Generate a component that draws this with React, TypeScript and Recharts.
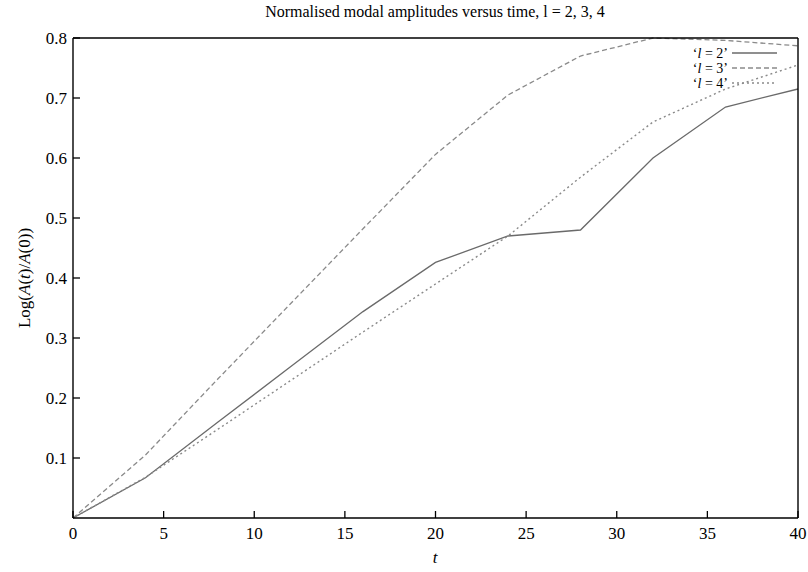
import React from "react";
import { LineChart, Line, XAxis, YAxis, Legend } from "recharts";

// t values (every 4 time units)
const times = [0, 4, 8, 12, 16, 20, 24, 28, 32, 36, 40];

// Log(A(t)/A(0))
const ampL2 = [0, 0.067, 0.16, 0.252, 0.344, 0.426, 0.47, 0.48, 0.6, 0.685, 0.715];
const ampL3 = [0, 0.105, 0.232, 0.357, 0.482, 0.606, 0.705, 0.77, 0.8, 0.796, 0.787];
const ampL4 = [0, 0.068, 0.148, 0.229, 0.31, 0.39, 0.47, 0.568, 0.66, 0.715, 0.755];

const xTicks = [0, 5, 10, 15, 20, 25, 30, 35, 40];
const yTicks = [0.1, 0.2, 0.3, 0.4, 0.5, 0.6, 0.7, 0.8];

const seriesNames = ["l = 2", "l = 3", "l = 4"];

const data = times.map((t, i) => ({
  t,
  l2: ampL2[i],
  l3: ampL3[i],
  l4: ampL4[i],
}));

const FONT = "'Liberation Serif', 'Times New Roman', Times, serif";

const lineStyles = [
  { key: "l2", stroke: "#6a6a6a", dash: undefined, width: 1.3 },
  { key: "l3", stroke: "#8a8a8a", dash: "5 3", width: 1.3 },
  { key: "l4", stroke: "#8a8a8a", dash: "2 3", width: 1.4 },
];

const axisLineStyle = { stroke: "black", strokeWidth: 1.4 };
const tickLineStyle = { stroke: "black", strokeWidth: 1.3 };
const tickText = { fontFamily: FONT, fontSize: 17, fill: "black" };

const renderLegend = () => (
  <svg width={160} height={50}>
    {seriesNames.map((name, i) => {
      const st = lineStyles[i];
      const y = 10 + i * 15;
      return (
        <g key={name}>
          <text x={88} y={y + 5} textAnchor="end" fontFamily={FONT} fontSize={14} fill="black">
            ‘<tspan fontStyle="italic">l</tspan>
            {name.slice(1)}’
          </text>
          <line
            x1={92}
            y1={y}
            x2={137}
            y2={y}
            stroke={st.stroke}
            strokeWidth={st.width}
            strokeDasharray={st.dash}
          />
        </g>
      );
    })}
  </svg>
);

const overlayText: React.CSSProperties = {
  position: "absolute",
  fontFamily: FONT,
  color: "black",
  whiteSpace: "nowrap",
  lineHeight: 1,
};

export default function App() {
  return (
    <div style={{ position: "absolute", left: 0, top: 0, width: 808, height: 572, background: "#fff" }}>
      <LineChart
        width={808}
        height={572}
        data={data}
        margin={{ top: 37, right: 9, bottom: 0, left: 0 }}
      >
        <XAxis
          dataKey="t"
          type="number"
          domain={[0, 40]}
          ticks={xTicks}
          height={54}
          tickSize={-7}
          tickMargin={16}
          axisLine={axisLineStyle}
          tickLine={tickLineStyle}
          tick={tickText}
        />
        <XAxis
          xAxisId="top"
          orientation="top"
          dataKey="t"
          type="number"
          domain={[0, 40]}
          ticks={xTicks}
          height={1}
          tickSize={-7}
          axisLine={axisLineStyle}
          tickLine={tickLineStyle}
          tick={false}
        />
        <YAxis
          type="number"
          domain={[0, 0.8]}
          ticks={yTicks}
          width={73}
          tickSize={-7}
          tickMargin={13}
          axisLine={axisLineStyle}
          tickLine={tickLineStyle}
          tick={tickText}
        />
        <YAxis
          yAxisId="right"
          orientation="right"
          type="number"
          domain={[0, 0.8]}
          ticks={yTicks}
          width={1}
          tickSize={-7}
          axisLine={axisLineStyle}
          tickLine={tickLineStyle}
          tick={false}
        />
        <Legend
          layout="vertical"
          align="center"
          verticalAlign="middle"
          content={renderLegend}
          wrapperStyle={{ position: "absolute", top: 43, left: 640, width: 160 }}
        />
        <Line
          name={seriesNames[0]}
          dataKey="l2"
          stroke={lineStyles[0].stroke}
          strokeWidth={lineStyles[0].width}
          dot={false}
          activeDot={false}
          isAnimationActive={false}
        />
        <Line
          name={seriesNames[1]}
          dataKey="l3"
          stroke={lineStyles[1].stroke}
          strokeWidth={lineStyles[1].width}
          strokeDasharray={lineStyles[1].dash}
          dot={false}
          activeDot={false}
          isAnimationActive={false}
        />
        <Line
          name={seriesNames[2]}
          dataKey="l4"
          xAxisId="top"
          yAxisId="right"
          stroke={lineStyles[2].stroke}
          strokeWidth={lineStyles[2].width}
          strokeDasharray={lineStyles[2].dash}
          dot={false}
          activeDot={false}
          isAnimationActive={false}
        />
      </LineChart>

      <div style={{ ...overlayText, left: 435, top: 4, transform: "translateX(-50%)", fontSize: 16 }}>
        Normalised modal amplitudes versus time, l = 2, 3, 4
      </div>
      <div
        style={{
          ...overlayText,
          left: 24,
          top: 278,
          fontSize: 17,
          transform: "translate(-50%, -50%) rotate(-90deg)",
        }}
      >
        Log(<i>A</i>(<i>t</i>)/<i>A</i>(0))
      </div>
      <div style={{ ...overlayText, left: 435, top: 549, transform: "translateX(-50%)", fontSize: 17 }}>
        <i>t</i>
      </div>
    </div>
  );
}
